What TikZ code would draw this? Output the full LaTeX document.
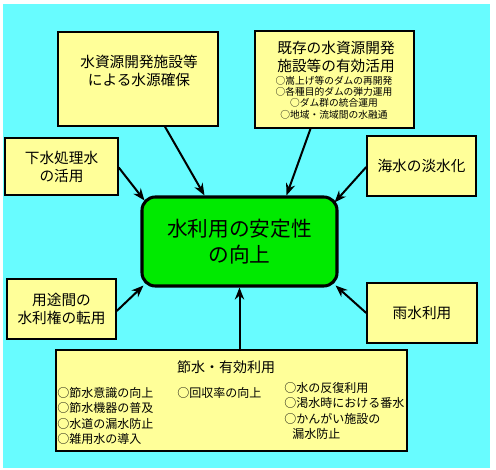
\documentclass[tikz,border=0pt]{standalone}
\usepackage{fontspec}
\setmainfont{Noto Sans CJK JP}
\usepackage{tikz}
\usetikzlibrary{arrows.meta, calc}
\definecolor{mCyan}{HTML}{68FCFF}
\definecolor{mPale}{HTML}{FFFF99}
\definecolor{mGreen}{HTML}{00EA00}

\begin{document}
\begin{tikzpicture}[x=0.75pt, y=-0.75pt,
    box/.style={draw, line width=1.1pt, fill=mPale, align=center, inner sep=0pt,
      font=\fontsize{11}{13.5}\selectfont},
    hub/.style={draw, line width=2.3pt, fill=mGreen, rounded corners=10pt, align=center,
      font=\fontsize{15.5}{19}\selectfont},
    arr/.style={-{Stealth[length=9pt, width=7pt]}, line width=1.5pt},
    item/.style={anchor=north west, align=left, inner sep=0pt,
      font=\fontsize{9}{11.5}\selectfont}]
    \useasboundingbox (0,0) rectangle (496,470);
    \fill[mCyan] (3,4) rectangle (490,468);

    % centre
    \node[hub, minimum width=146.25pt, minimum height=66.75pt] (hub) at (239.5,241.5)
      {水利用の安定性\\の向上};

    % sources round it
    \node[box, minimum width=120pt, minimum height=70.5pt] (srcA) at (138,79) {};
    \node[align=center, inner sep=0pt, font=\fontsize{11}{13.5}\selectfont] (tA) at (139,71)
      {水資源開発施設等\\による水源確保};
    \node[box, minimum width=119.25pt, minimum height=72.75pt] (srcB) at (334.5,79.5) {};
    \node[align=center, inner sep=0pt, font=\fontsize{11}{13.5}\selectfont] (tB) at (336,56.5)
      {既存の水資源開発\\施設等の有効活用};
    \node[align=center, inner sep=0pt, font=\fontsize{7.3}{8.5}\selectfont] (lB) at (334,97.5)
      {○嵩上げ等のダムの再開発\\○各種目的ダムの弾力運用\\○ダム群の統合運用\\○地域・流域間の水融通};
    \node[box, minimum width=84.75pt, minimum height=42.75pt] (srcC) at (61.5,166.5)
      {下水処理水\\の活用};
    \node[box, minimum width=81.75pt, minimum height=45pt] (srcD) at (421.5,166)
      {海水の淡水化};
    \node[box, minimum width=81.75pt, minimum height=45pt] (srcE) at (61.5,309)
      {用途間の\\水利権の転用};
    \node[box, minimum width=82.5pt, minimum height=45pt] (srcF) at (422,313)
      {雨水利用};

    % bottom box
    \node[box, minimum width=263.25pt, minimum height=75.75pt] (srcG) at (231.5,400.5) {};
    \node[inner sep=0pt, font=\fontsize{10.5}{12}\selectfont] (tG) at (226,367) {節水・有効利用};
    \node[item] (g1) at (57,387) {○節水意識の向上\\○節水機器の普及\\○水道の漏水防止\\○雑用水の導入};
    \node[item] (g2) at (177,387) {○回収率の向上};
    \node[item] (g3) at (284,382) {○水の反復利用\\○渇水時における番水\\○かんがい施設の\\\hspace*{6pt}漏水防止};

    % arrows
    \draw[arr] ($(srcA.south)+(27,0)$) -- ($(hub.north)+(-35,0)$);
    \draw[arr] ($(srcB.south)+(-24,0)$) -- ($(hub.north)+(47,0)$);
    \draw[arr] ($(srcC.east)+(0,1)$) -- ($(hub.north west)+(4,5)$);
    \draw[arr] ($(srcD.west)+(0,1)$) -- ($(hub.north east)+(-4,7)$);
    \draw[arr] ($(srcE.east)+(0,2)$) -- ($(hub.south west)+(3,-2)$);
    \draw[arr] (srcF.west) -- ($(hub.south east)+(-3,-2)$);
    \draw[arr] (hub.south |- srcG.north) -- (hub.south);
\end{tikzpicture}
\end{document}
